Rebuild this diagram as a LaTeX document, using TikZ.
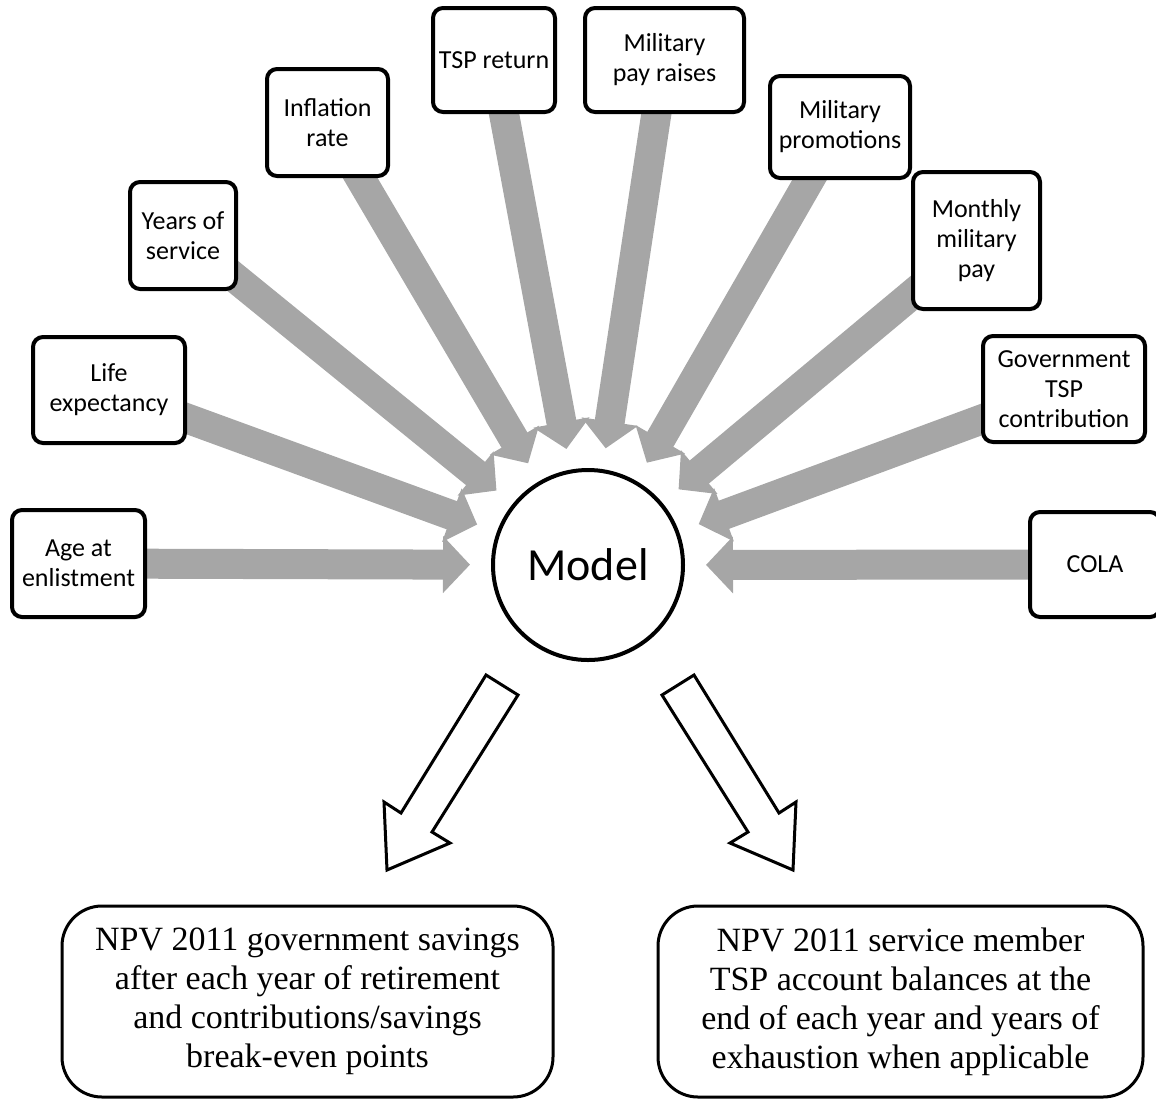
\documentclass[tikz,border=0pt]{standalone}
\usepackage{fontspec}
\setmainfont{Carlito}
\newfontfamily\npvfont{Liberation Serif}
\usetikzlibrary{arrows.meta,calc,backgrounds}
\definecolor{feedgray}{RGB}{166,166,166}

\begin{document}
\begin{tikzpicture}[x=0.5pt,y=-0.5pt,
  input node/.style={draw,line width=2pt,rounded corners=5pt,fill=white,align=center,
        inner sep=0pt,font=\fontsize{13}{15}\selectfont},
  model node/.style={circle,draw,line width=2pt,fill=white,minimum size=95pt,inner sep=0pt,
        font=\fontsize{23}{27}\selectfont},
  output node/.style={draw,line width=1.5pt,rounded corners=20pt,fill=white,align=center,
        font=\npvfont\fontsize{17}{19.5}\selectfont},
  feed arrow/.style={draw=feedgray,line width=15pt,-{Triangle[length=0pt 0.9,width=0pt 1.85]}},
  out arrow/.style={draw,line width=1.5pt,fill=white,line join=miter}]
  \useasboundingbox (0,0) rectangle (1156,1099);

  \node[model node] (model) at (588,565) {Model};

  % inputs, clockwise from the left
  \node[input node,minimum width=66.5pt,minimum height=53.5pt] (age) at (78.5,563.5) {Age at\\enlistment};
  \node[input node,minimum width=76pt,minimum height=53pt] (life) at (109,390) {Life\\expectancy};
  \node[input node,minimum width=53pt,minimum height=53.5pt] (years) at (183,235.5) {Years of\\service};
  \node[input node,minimum width=60.5pt,minimum height=53.5pt] (inflation) at (327.5,122.5) {Inflation\\rate};
  \node[input node,minimum width=61pt,minimum height=52pt] (tsp) at (494,60) {TSP return};
  \node[input node,minimum width=79.5pt,minimum height=52pt] (payraise) at (664.5,60) {Military\\pay raises};
  \node[input node,minimum width=70pt,minimum height=51pt] (promotion) at (840,127) {Military\\promotions};
  \node[input node,minimum width=63.5pt,minimum height=68.5pt] (monthly) at (976.5,240.5) {Monthly\\military\\pay};
  \node[input node,minimum width=81pt,minimum height=53pt] (govtsp) at (1064,389) {Government\\TSP\\contribution};
  \node[input node,minimum width=65pt,minimum height=52.5pt] (cola) at (1095,564.5) {COLA};

  % outputs
  \node[output node,minimum width=245.5pt,minimum height=95.5pt] (govsave) at (307.5,1001.5)
    {NPV 2011 government savings\\after each year of retirement\\and contributions/savings\\break-even points};
  \node[output node,minimum width=242.5pt,minimum height=95.5pt] (balance) at (900.5,1001.5)
    {NPV 2011 service member\\TSP account balances at the\\end of each year and years of\\exhaustion when applicable};

  \begin{scope}[on background layer]
    \foreach \src in {age,life,years,inflation,tsp,payraise,promotion,monthly,govtsp,cola}
      \draw[feed arrow] (\src.center) -- ($(model.center)!59pt!(\src.center)$);
  \end{scope}

  % hollow arrows down to the outputs
  \foreach \s in {1,-1}{
    \begin{scope}[shift={(590,0)},xscale=\s]
      \draw[out arrow] (-104,675) -- (-72,695) -- (-158,832) -- (-140,843) -- (-203,870)
        -- (-206,802) -- (-189,813) -- cycle;
    \end{scope}
  }
\end{tikzpicture}
\end{document}
